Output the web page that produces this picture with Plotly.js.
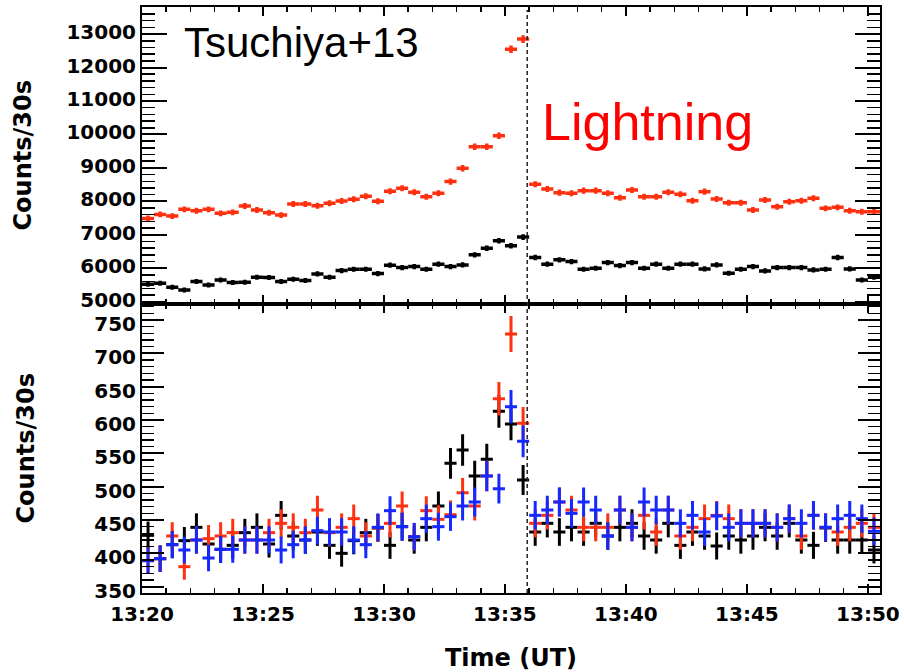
<!DOCTYPE html>
<html>
<head>
<meta charset="utf-8">
<script src="https://cdn.plot.ly/plotly-3.0.1.min.js"></script>
<style>html,body{margin:0;padding:0;background:#fff;}#chart{width:904px;height:672px;}</style>
</head>
<body>
<div id="chart"></div>
<script>
// Bin centres, minutes after 13:00 (30 s bins)
const binCentres = [20.25,20.75,21.25,21.75,22.25,22.75,23.25,23.75,24.25,24.75,
  25.25,25.75,26.25,26.75,27.25,27.75,28.25,28.75,29.25,29.75,
  30.25,30.75,31.25,31.75,32.25,32.75,33.25,33.75,34.25,34.75,
  35.25,35.75,36.25,36.75,37.25,37.75,38.25,38.75,39.25,39.75,
  40.25,40.75,41.25,41.75,42.25,42.75,43.25,43.75,44.25,44.75,
  45.25,45.75,46.25,46.75,47.25,47.75,48.25,48.75,49.25,49.75,
  50.25];
const tickVals = [20,25,30,35,40,45,50];
const tickText = ["13:20","13:25","13:30","13:35","13:40","13:45","13:50"];
const lightningTime = 35.92;

// Top panel
const topRed = [7490,7610,7560,7760,7720,7760,7640,7670,7860,7740,
  7660,7590,7920,7920,7870,7940,8010,8060,8150,8000,
  8300,8390,8270,8140,8240,8590,8990,9630,9630,9960,
  12550,12850,8510,8370,8260,8240,8320,8320,8240,8110,
  8340,8140,8140,8270,8210,8020,8290,8070,7960,7960,
  7740,8040,7840,7990,8020,8090,7790,7820,7720,7690,
  7690];
const topBlack = [5520,5550,5430,5350,5600,5500,5650,5570,5580,5730,
  5720,5600,5670,5630,5830,5730,5930,5970,5970,5840,
  6090,6020,6050,5970,6120,6050,6100,6400,6600,6820,
  6670,6930,6320,6120,6250,6200,5970,6000,6170,6080,
  6170,6000,6120,6000,6120,6120,5980,6100,5850,5970,
  6050,5920,6020,6020,6020,5950,5970,6320,5980,5650,
  5730];

// Bottom panel
const botBlack = [427,392,413,419,439,414,406,412,431,439,
  414,457,426,420,432,412,400,419,431,438,
  412,440,420,439,471,535,555,516,541,613,
  594,510,432,445,432,439,432,445,426,439,
  445,426,420,445,412,432,426,411,426,420,
  426,439,426,445,420,412,438,420,420,420,
  405];
const botRed = [389,392,426,380,420,422,426,431,420,420,
  431,445,439,431,465,431,439,452,426,438,
  445,471,425,464,451,458,491,471,516,632,
  729,595,445,457,477,465,439,439,439,465,
  439,457,432,465,426,439,452,457,452,445,
  445,445,439,452,426,457,439,432,439,445,
  439];
const botBlue = [389,392,413,405,420,393,406,406,420,420,
  420,405,413,420,434,432,432,420,413,439,
  464,440,425,452,440,455,471,477,516,497,
  620,568,457,465,477,460,477,465,426,465,
  439,477,465,465,445,457,432,456,439,445,
  445,445,439,452,445,457,439,452,457,452,
  433];

const RED = '#ff3010', BLUE = '#1428ff', BLACK = '#000000';

function series(y, color, xa, ya, th) {
  return {
    x: binCentres, y: y, type: 'scatter', mode: 'markers',
    xaxis: xa, yaxis: ya,
    marker: {size: 2, color: color},
    error_x: {type: 'constant', value: 0.25, width: 0, thickness: th, color: color},
    error_y: {type: 'sqrt', width: 0, thickness: th, color: color},
    hoverinfo: 'x+y', showlegend: false
  };
}

const data = [
  series(topRed, RED, 'x2', 'y2', 3.5),
  series(topBlack, BLACK, 'x2', 'y2', 3.5),
  series(botBlack, BLACK, 'x', 'y', 3),
  series(botRed, RED, 'x', 'y', 3),
  series(botBlue, BLUE, 'x', 'y', 3)
];

const tickFont = {family: 'DejaVu Sans', size: 20, color: '#000', weight: 'bold'};
const titleFont = {family: 'DejaVu Sans', size: 24, color: '#000', weight: 'bold'};
const split = 0.494;

const xCommon = {
  range: [20, 50.5], tickmode: 'array', tickvals: tickVals, ticktext: tickText,
  ticks: 'inside', ticklen: 9, tickwidth: 2, tickcolor: '#000',
  minor: {tickmode: 'linear', tick0: 20, dtick: 1, ticks: 'inside', ticklen: 5, tickwidth: 1.5, tickcolor: '#000'},
  showline: true, linewidth: 2, linecolor: '#000', mirror: 'allticks',
  showgrid: false, zeroline: false, tickfont: tickFont, fixedrange: true
};

const layout = {
  width: 904, height: 672,
  margin: {l: 142, r: 24, t: 7, b: 79},
  paper_bgcolor: '#fff', plot_bgcolor: '#fff',
  xaxis: Object.assign({}, xCommon, {anchor: 'y', domain: [0, 1], ticklabelstandoff: 2,
    title: {text: 'Time (UT)', font: titleFont, standoff: 26}}),
  xaxis2: Object.assign({}, xCommon, {anchor: 'y2', domain: [0, 1], matches: 'x', showticklabels: false}),
  yaxis: {
    anchor: 'x', domain: [0, split], range: [340.5, 774.75],
    tick0: 0, dtick: 50, tickformat: 'd', ticks: 'inside', ticklen: 22, tickwidth: 2, tickcolor: '#000',
    ticklabelshift: 4,
    minor: {dtick: 10, ticks: 'inside', ticklen: 12, tickwidth: 1.5, tickcolor: '#000'},
    showline: true, linewidth: 2, linecolor: '#000', mirror: 'allticks',
    showgrid: false, zeroline: false, tickfont: tickFont, fixedrange: true,
    title: {text: 'Counts/30s', font: titleFont, standoff: 53}
  },
  yaxis2: {
    anchor: 'x2', domain: [split, 1], range: [4945, 13810],
    tick0: 0, dtick: 1000, tickformat: 'd', ticks: 'inside', ticklen: 25, tickwidth: 2, tickcolor: '#000',
    ticklabelshift: -2,
    minor: {dtick: 200, ticks: 'inside', ticklen: 13, tickwidth: 1.5, tickcolor: '#000'},
    showline: true, linewidth: 2, linecolor: '#000', mirror: 'allticks',
    showgrid: false, zeroline: false, tickfont: tickFont, fixedrange: true,
    title: {text: 'Counts/30s', font: titleFont, standoff: 28}
  },
  shapes: [{
    type: 'line', xref: 'x', yref: 'paper', x0: lightningTime, x1: lightningTime, y0: 0, y1: 0.995,
    line: {color: '#222', width: 1.5, dash: '4px,3px'}
  }],
  annotations: [
    {text: 'Tsuchiya+13', xref: 'paper', yref: 'paper', x: 0.0545, y: 0.9386,
     xanchor: 'left', yanchor: 'middle', showarrow: false,
     font: {family: 'Liberation Sans, Arial, sans-serif', size: 42, color: '#000'}},
    {text: 'Lightning', xref: 'paper', yref: 'paper', x: 0.5395, y: 0.8035,
     xanchor: 'left', yanchor: 'middle', showarrow: false,
     font: {family: 'Liberation Sans, Arial, sans-serif', size: 52, color: '#ff0000'}}
  ]
};

Plotly.newPlot('chart', data, layout, {displayModeBar: false, staticPlot: true});
</script>
</body>
</html>
